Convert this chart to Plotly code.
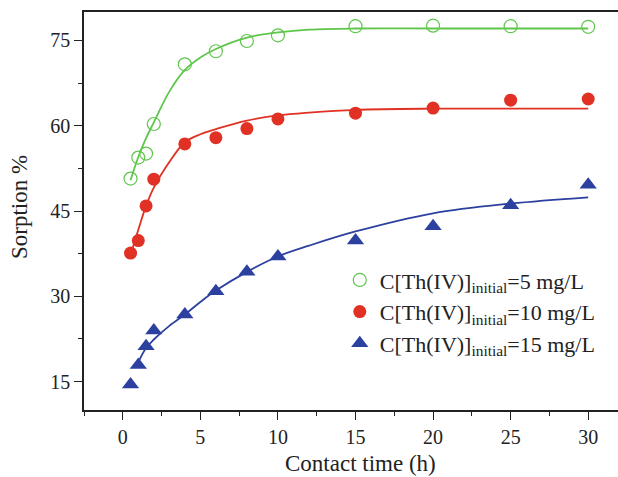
import plotly.graph_objects as go

# Measured data
t_meas = [0.5, 1, 1.5, 2, 4, 6, 8, 10, 15, 20, 25, 30]
s5 = [50.7, 54.4, 55.1, 60.3, 70.8, 73.1, 74.9, 75.9, 77.5, 77.6, 77.5, 77.4]
s10 = [37.6, 39.8, 45.9, 50.6, 56.8, 57.9, 59.5, 61.2, 62.2, 63.1, 64.5, 64.7]
s15 = [14.5, 17.9, 21.2, 24.0, 26.8, 30.9, 34.3, 37.0, 39.8, 42.3, 46.0, 49.6]

# Fitted curves
t_fit = [0.5, 1, 1.5, 2, 3, 4, 5, 6, 8, 10, 12, 15, 20, 25, 30]
f5 = [50.4, 54.5, 57.8, 60.6, 66.0, 69.8, 72.0, 73.5, 75.5, 76.4, 76.9, 77.1, 77.1, 77.1, 77.1]
f10 = [37.3, 41.7, 45.9, 49.1, 53.6, 57.1, 58.5, 59.4, 60.9, 61.8, 62.3, 62.8, 63.0, 63.0, 63.0]
t_fit15 = [1, 1.5, 2, 3, 4, 5, 6, 8, 10, 12, 15, 20, 25, 30]
f15 = [18.4, 20.9, 22.4, 24.8, 26.8, 29.0, 31.0, 34.3, 37.0, 38.9, 41.4, 44.6, 46.3, 47.4]

names = ["C[Th(IV)]<sub>initial</sub>=5 mg/L",
         "C[Th(IV)]<sub>initial</sub>=10 mg/L",
         "C[Th(IV)]<sub>initial</sub>=15 mg/L"]
x_title = "Contact time (h)"
y_title = "Sorption %"

GREEN = "#5ec64a"
RED = "#e03124"
BLUE = "#2c40a0"
FONT = "Liberation Serif"
TXT = "#222222"

fig = go.Figure()
fig.add_trace(go.Scatter(x=t_fit, y=f5, mode="lines", line=dict(color=GREEN, width=1.8, shape="spline"), showlegend=False))
fig.add_trace(go.Scatter(x=t_fit, y=f10, mode="lines", line=dict(color=RED, width=1.8, shape="spline"), showlegend=False))
fig.add_trace(go.Scatter(x=t_fit15, y=f15, mode="lines", line=dict(color=BLUE, width=1.8, shape="spline"), showlegend=False))

fig.add_trace(go.Scatter(x=t_meas, y=s5, mode="markers", name=names[0], legendgroup="a",
                         marker=dict(symbol="circle-open", size=13, color=GREEN, line=dict(width=1.2, color=GREEN))))
fig.add_trace(go.Scatter(x=t_meas, y=s10, mode="markers", name=names[1], legendgroup="b",
                         marker=dict(symbol="circle", size=13, color=RED)))
fig.add_trace(go.Scatter(x=t_meas, y=s15, mode="markers", name=names[2], legendgroup="c",
                         marker=dict(symbol="triangle-up", size=15, color=BLUE)))

fig.update_layout(
    width=618, height=477,
    margin=dict(l=84, r=0, t=12, b=67),
    paper_bgcolor="white", plot_bgcolor="white",
    font=dict(family=FONT, size=20, color=TXT),
    showlegend=True,
    legend=dict(x=0.479, y=0.379, xanchor="left", yanchor="top",
                bgcolor="rgba(0,0,0,0)", font=dict(family=FONT, size=22, color=TXT),
                tracegroupgap=0, traceorder="grouped"),
    xaxis=dict(range=[-2.5, 31.92], tickmode="array", tickvals=[0, 5, 10, 15, 20, 25, 30],
               ticks="outside", ticklen=8, tickwidth=1.3, tickcolor=TXT,
               minor=dict(tickvals=[-2.5, 2.5, 7.5, 12.5, 17.5, 22.5, 27.5], ticks="outside", ticklen=4, tickwidth=1.3, tickcolor=TXT),
               showline=True, linecolor=TXT, linewidth=1.6, mirror=True,
               showgrid=False, zeroline=False),
    yaxis=dict(range=[10, 80], tickmode="array", tickvals=[15, 30, 45, 60, 75],
               ticks="outside", ticklen=8, tickwidth=1.3, tickcolor=TXT,
               minor=dict(tickvals=[22.5, 37.5, 52.5, 67.5], ticks="outside", ticklen=4, tickwidth=1.3, tickcolor=TXT),
               showline=True, linecolor=TXT, linewidth=1.6, mirror=False,
               showgrid=False, zeroline=False),
    annotations=[
        dict(text=x_title, xref="paper", yref="paper", x=(360 - 84) / 534, y=-(463 - 410) / 398,
             xanchor="center", yanchor="middle", showarrow=False, font=dict(family=FONT, size=23, color=TXT)),
        dict(text=y_title, xref="paper", yref="paper", x=-(84 - 20) / 534, y=(410 - 207) / 398,
             xanchor="center", yanchor="middle", textangle=-90, showarrow=False, font=dict(family=FONT, size=23, color=TXT)),
    ],
)

fig.write_html("out.html")
